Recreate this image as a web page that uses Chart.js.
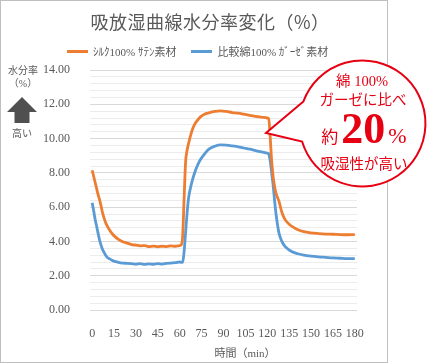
<!DOCTYPE html>
<html lang="ja">
<head>
  <meta charset="UTF-8">
  <title>吸放湿曲線水分率変化</title>
  <script src="https://cdn.jsdelivr.net/npm/chart.js"></script>
  <style>
    body {
      margin: 0;
      background: #fff;
      font-family: "Liberation Serif", "Noto Sans CJK JP", serif;
    }
    #wrap {
      position: relative;
      width: 433px;
      height: 364px;
      overflow: hidden;
    }
    #frame {
      position: absolute;
      left: 0; top: 0;
      width: 388px; height: 363px;
      box-sizing: border-box;
      border: 1px solid #bfbfbf;
    }
    canvas { position: absolute; left: 0; top: 0; }
    .t {
      position: absolute;
      white-space: nowrap;
      transform: translate(-50%, -50%);
      color: #595959;
    }
    #title { left: 210px; top: 21px; font-size: 18px; letter-spacing: 0.5px; font-family: "Noto Sans CJK JP", sans-serif; }
    #legend { position: absolute; left: 67px; top: 44px; height: 14px; font-size: 11px; color: #595959;
      font-family: "Liberation Serif", "Noto Sans CJK JP"; display: flex; align-items: center; white-space: nowrap; }
    #legend .sw { display: inline-block; width: 21px; height: 3px; margin-right: 5px; }
    #legend .item { display: flex; align-items: center; margin-right: 15px; }
    #ylab1 { left: 23px; top: 69px; font-size: 10px; }
    #ylab2 { left: 23px; top: 82px; font-size: 10px; }
    #ylab3 { left: 22px; top: 132px; font-size: 10px; }
    #xtitle { left: 245px; top: 352px; font-size: 11px; }
    svg { position: absolute; left: 0; top: 0; }
    .r { color: #e60012; }
    #c1 { left: 362px; top: 79px; font-size: 14.5px; }
    #c2 { left: 363px; top: 98px; font-size: 14.5px; }
    #c3 { left: 364px; top: 128px; font-size: 17px; }
    #c3 b { font-size: 44px; margin: 0 3px; }
    #c3 i { font-style: normal; font-size: 22px; }
    #c4 { left: 364px; top: 162px; font-size: 14.5px; }
  </style>
</head>
<body>
<div id="wrap">
  <div id="frame"></div>
  <canvas id="moistChart" width="433" height="364"></canvas>
  <div class="t" id="title">吸放湿曲線水分率変化（%）</div>
  <div id="legend"></div>
  <div class="t" id="ylab1">水分率</div>
  <div class="t" id="ylab2">（%）</div>
  <div class="t" id="ylab3">高い</div>
  <div class="t" id="xtitle">時間（min）</div>
  <svg width="433" height="364">
    <!-- up arrow next to the y axis -->
    <path d="M22 97 L37 112 L29.5 112 L29.5 123 L14.5 123 L14.5 112 L7 112 Z" fill="#505050"/>
    <!-- speech bubble -->
    <path d="M303.4 101.5 L266 133 L302.1 141.5 A63 63 0 1 0 303.4 101.5 Z"
          fill="#fff" stroke="#e60012" stroke-width="2" stroke-linejoin="miter"/>
  </svg>
  <div class="t r" id="c1">綿 100%</div>
  <div class="t r" id="c2">ガーゼに比べ</div>
  <div class="t r" id="c3">約<b>20</b><i>%</i></div>
  <div class="t r" id="c4">吸湿性が高い</div>
</div>

<script>
  // time (min)
  const times = [0, 1, 2, 3, 4, 5, 6, 7, 8, 9, 10, 12, 14, 16, 18, 21, 24, 27, 30, 33,
    36, 39, 42, 45, 48, 51, 54, 57, 60, 61, 62, 63, 64, 65, 66, 68, 70, 72, 74, 77,
    80, 84, 88, 92, 96, 100, 104, 108, 112, 116, 120, 121, 122, 123, 124, 125, 126, 128, 130, 132,
    135, 138, 141, 145, 150, 155, 160, 165, 170, 175, 180];

  // silk 100% satin
  const silk = [8.15, 7.8, 7.45, 7.1, 6.75, 6.45, 6.1, 5.7, 5.4, 5.15, 4.95, 4.65, 4.42, 4.25, 4.12, 3.98, 3.9, 3.82, 3.78, 3.74,
    3.76, 3.7, 3.73, 3.69, 3.72, 3.7, 3.74, 3.72, 3.76, 3.8, 4.3, 6.5, 8.6, 9.3, 9.7, 10.35, 10.8, 11.05, 11.25, 11.42,
    11.5, 11.58, 11.62, 11.58, 11.52, 11.48, 11.42, 11.36, 11.3, 11.25, 11.2, 11.15, 10.1, 8.7, 7.8, 7.2, 6.8, 6.35, 5.7, 5.3,
    5.0, 4.82, 4.68, 4.57, 4.5, 4.46, 4.43, 4.42, 4.4, 4.39, 4.4];

  // cotton 100% gauze
  const gauze = [6.25, 5.8, 5.3, 4.9, 4.5, 4.1, 3.8, 3.55, 3.38, 3.22, 3.1, 2.98, 2.88, 2.82, 2.78, 2.74, 2.72, 2.7, 2.68, 2.7,
    2.66, 2.69, 2.67, 2.7, 2.68, 2.72, 2.74, 2.76, 2.8, 2.78, 2.8, 3.4, 4.5, 5.6, 6.5, 7.35, 7.95, 8.4, 8.75, 9.1,
    9.38, 9.55, 9.63, 9.62, 9.57, 9.52, 9.45, 9.38, 9.3, 9.22, 9.15, 9.1, 8.7, 8.0, 7.3, 6.4, 5.6, 4.5, 4.0, 3.72,
    3.5, 3.36, 3.28, 3.2, 3.14, 3.1, 3.07, 3.04, 3.02, 3.0, 3.0];

  const seriesNames = ['ｼﾙｸ100% ｻﾃﾝ素材', '比較綿100% ｶﾞｰｾﾞ素材'];
  const seriesColors = ['#ed7d31', '#5b9bd5'];

  const xTickLabels = [0, 15, 30, 45, 60, 75, 90, 105, 120, 135, 150, 165, 180];
  const yTickLabels = ['0.00', '2.00', '4.00', '6.00', '8.00', '10.00', '12.00', '14.00'];
  const yMinorStep = 0.4;

  // html legend
  const legend = document.getElementById('legend');
  seriesNames.forEach((name, i) => {
    const item = document.createElement('span');
    item.className = 'item';
    item.innerHTML = `<span class="sw" style="background:${seriesColors[i]}"></span>${name}`;
    legend.appendChild(item);
  });

  const yMajors = yTickLabels.map(parseFloat);
  const yMax = yMajors[yMajors.length - 1];
  const isMajor = v => yMajors.some(m => Math.abs(m - v) < 1e-6);

  const ctx = document.getElementById('moistChart').getContext('2d');
  const chart = new Chart(ctx, {
    type: 'line',
    data: {
      datasets: [silk, gauze].map((vals, i) => ({
        label: seriesNames[i],
        data: times.map((t, j) => ({ x: t, y: vals[j] })),
        borderColor: seriesColors[i],
        borderWidth: 2.8,
        pointRadius: 0,
        fill: false,
        cubicInterpolationMode: 'monotone'
      }))
    },
    options: {
      responsive: false,
      animation: false,
      layout: { padding: { top: 70, right: 76, left: 0, bottom: 0 } },
      plugins: {
        legend: { display: false },
        title: { display: false },
        tooltip: { enabled: false }
      },
      scales: {
        x: {
          type: 'linear',
          min: -1.5,
          max: 181.5,
          afterBuildTicks: axis => { axis.ticks = xTickLabels.map(v => ({ value: v })); },
          afterFit: axis => { axis.height = 54; },
          grid: { display: false },
          border: { display: false },
          ticks: {
            autoSkip: false,
            maxRotation: 0,
            padding: 9,
            color: '#595959',
            font: { family: '"Liberation Serif"', size: 12 }
          }
        },
        y: {
          min: 0,
          max: yMax,
          afterBuildTicks: axis => {
            const ticks = [];
            const n = Math.round(yMax / yMinorStep);
            for (let k = 0; k <= n; k++) ticks.push({ value: +(k * yMinorStep).toFixed(2) });
            axis.ticks = ticks;
          },
          afterFit: axis => { axis.width = 90; },
          grid: {
            drawTicks: false,
            color: c => isMajor(c.tick.value) ? '#d9d9d9' : '#ececec',
            lineWidth: 1
          },
          border: { display: false },
          ticks: {
            autoSkip: false,
            padding: 20,
            color: '#595959',
            font: { family: '"Liberation Serif"', size: 12 },
            callback: v => isMajor(v) ? v.toFixed(2) : ''
          }
        }
      }
    }
  });
</script>
</body>
</html>
